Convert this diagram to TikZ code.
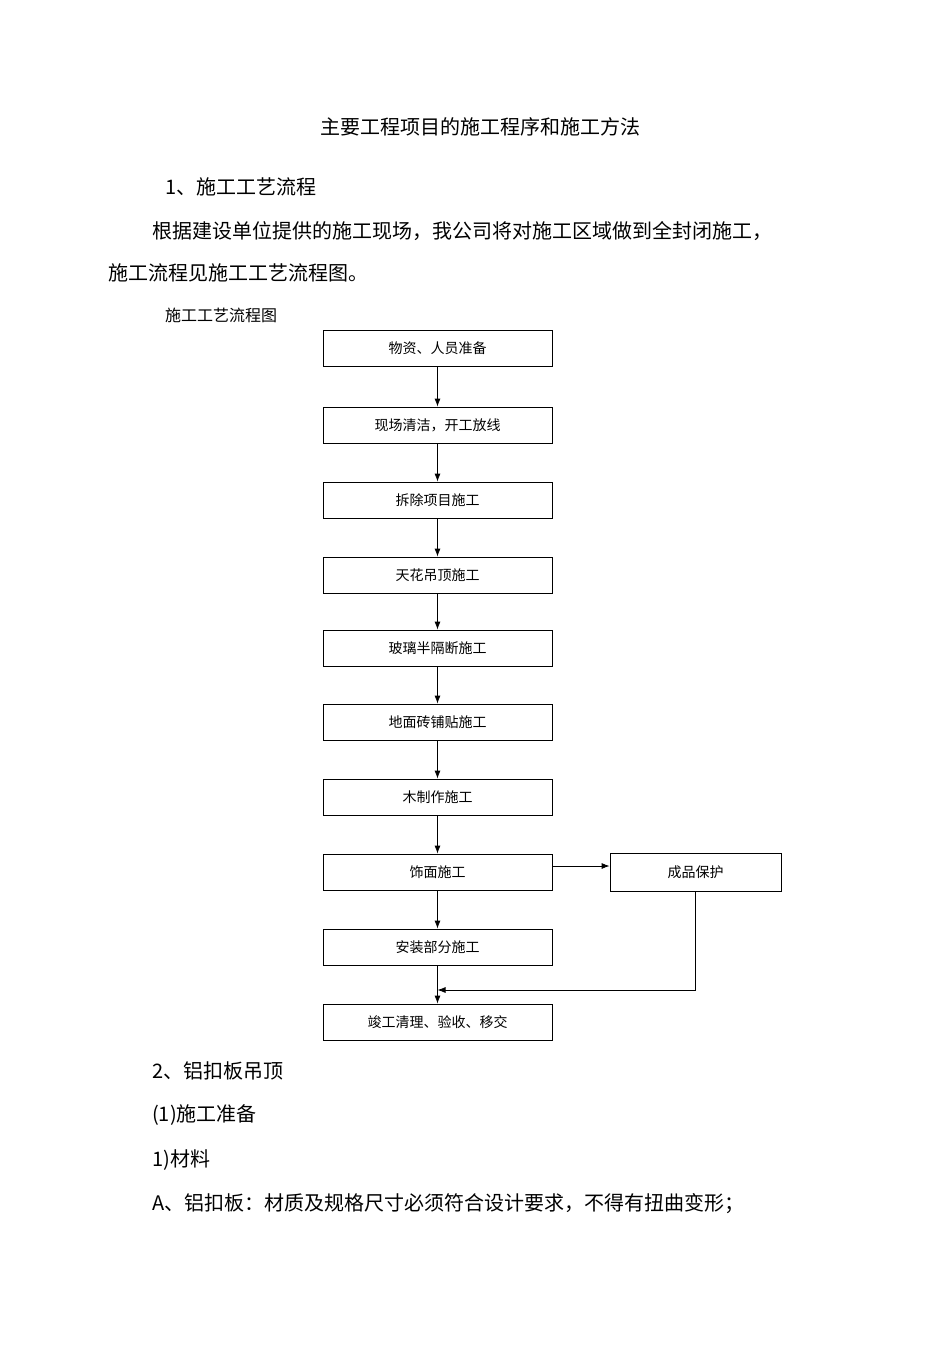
\documentclass[tikz,border=0pt]{standalone}
\usepackage{fontspec}
\setmainfont{Noto Sans CJK SC}
\usetikzlibrary{arrows.meta}
\tikzset{
  stage/.style={draw, thick, minimum width=229pt, minimum height=36pt, inner sep=0pt, font=\fontsize{14}{16}\selectfont},
  flow/.style={-{Latex[length=8pt,width=6pt]}, thick},
  txt/.style={anchor=west, inner sep=0pt, font=\fontsize{20}{24}\selectfont}
}
\begin{document}
\begin{tikzpicture}[x=1pt, y=-1pt]
\useasboundingbox (0,0) rectangle (950,1345);
\node[font=\fontsize{20}{24}\selectfont] (title) at (480,127) {主要工程项目的施工程序和施工方法};
\node[txt] (h1) at (165,187) {1、施工工艺流程};
\node[txt] (p1) at (152,231) {根据建设单位提供的施工现场，我公司将对施工区域做到全封闭施工，};
\node[txt] (p2) at (108,273) {施工流程见施工工艺流程图。};
\node[txt, font=\fontsize{16}{19}\selectfont] (cap) at (165,315) {施工工艺流程图};
% flow boxes
\node[stage] (s1) at (437.5,348) {物资、人员准备};
\node[stage] (s2) at (437.5,425) {现场清洁，开工放线};
\node[stage] (s3) at (437.5,500) {拆除项目施工};
\node[stage] (s4) at (437.5,575) {天花吊顶施工};
\node[stage] (s5) at (437.5,648) {玻璃半隔断施工};
\node[stage] (s6) at (437.5,722) {地面砖铺贴施工};
\node[stage] (s7) at (437.5,797) {木制作施工};
\node[stage] (s8) at (437.5,872) {饰面施工};
\node[stage] (s9) at (437.5,947) {安装部分施工};
\node[stage] (s10) at (437.5,1022) {竣工清理、验收、移交};
\node[stage, minimum width=171pt, minimum height=38pt] (prot) at (695.5,872) {成品保护};
\foreach \a/\b in {s1/s2,s2/s3,s3/s4,s4/s5,s5/s6,s6/s7,s7/s8,s8/s9,s9/s10}
  \draw[flow] (\a) -- (\b);
\draw[flow] (s8.east |- 0,866) -- (prot.west |- 0,866);
\coordinate (join) at (437.5,990);
\draw[flow] (prot.south) |- (join);
\node[txt] (h2) at (152,1071) {2、铝扣板吊顶};
\node[txt] (h3) at (152,1115) {(1)施工准备};
\node[txt] (h4) at (152,1160) {1)材料};
\node[txt] (h5) at (152,1204) {A、铝扣板：材质及规格尺寸必须符合设计要求，不得有扭曲变形；};
\end{tikzpicture}
\end{document}
